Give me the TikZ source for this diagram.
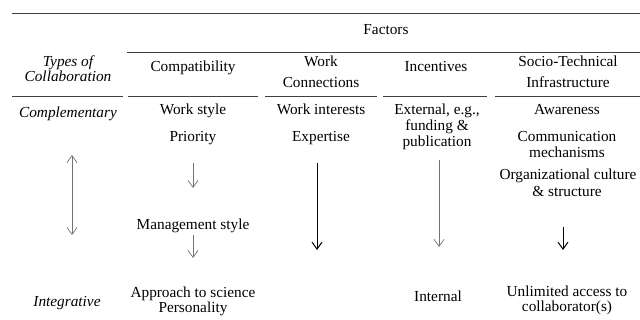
\documentclass[tikz,border=0pt]{standalone}
\usepackage{fontspec}
\setmainfont{Liberation Serif}
\usetikzlibrary{arrows.meta}
\begin{document}
\begin{tikzpicture}[x=1pt,y=-1pt,
  txt/.style={anchor=base,inner sep=0pt,font=\fontsize{15.3}{17}\selectfont},
  itxt/.style={txt,font=\fontsize{15.3}{17}\selectfont\itshape},
  rule/.style={draw=black!75,line width=0.9pt},
  garrow/.style={draw=black!55,line width=0.7pt,-{Straight Barb[length=7pt,width=10pt]}},
  barrow/.style={draw=black,line width=1pt,-{Straight Barb[length=7pt,width=10pt]}},
  gdarrow/.style={draw=black!55,line width=0.7pt,{Straight Barb[length=7pt,width=10pt]}-{Straight Barb[length=7pt,width=10pt]}}]
\useasboundingbox (0,0) rectangle (640,320);
% rules
\coordinate (t1) at (12,13); \coordinate (t2) at (640,13);
\coordinate (f1) at (127,52); \coordinate (f2) at (640,52);
\draw[rule] (t1) -- (t2);
\draw[rule] (f1) -- (f2);
\coordinate (h1a) at (12,96);  \coordinate (h1b) at (123,96);
\coordinate (h2a) at (128,96); \coordinate (h2b) at (258,96);
\coordinate (h3a) at (265,96); \coordinate (h3b) at (377,96);
\coordinate (h4a) at (383,96); \coordinate (h4b) at (487,96);
\coordinate (h5a) at (495,96); \coordinate (h5b) at (640,96);
\draw[rule] (h1a) -- (h1b);
\draw[rule] (h2a) -- (h2b);
\draw[rule] (h3a) -- (h3b);
\draw[rule] (h4a) -- (h4b);
\draw[rule] (h5a) -- (h5b);
% header
\node[txt] (factors) at (386,35) {Factors};
\node[itxt] (types1) at (68,67) {Types of};
\node[itxt] (types2) at (68,82) {Collaboration};
\node[txt] (compat) at (193,72) {Compatibility};
\node[txt] (wc1) at (321,67) {Work};
\node[txt] (wc2) at (321,88) {Connections};
\node[txt] (incent) at (436,72) {Incentives};
\node[txt] (st1) at (568,67) {Socio-Technical};
\node[txt] (st2) at (568,88) {Infrastructure};
% rows
\node[itxt] (compl) at (68,118) {Complementary};
\node[itxt] (integ) at (67,307) {Integrative};
\node[txt] (wstyle) at (193,115) {Work style};
\node[txt] (prio) at (193,142) {Priority};
\node[txt] (mgmt) at (193,230) {Management style};
\node[txt] (appr) at (193,298) {Approach to science};
\node[txt] (pers) at (193,313) {Personality};
\node[txt] (wint) at (321,115) {Work interests};
\node[txt] (expt) at (321,142) {Expertise};
\node[txt] (ext1) at (437,115) {External, e.g.,};
\node[txt] (ext2) at (437,131) {funding \&};
\node[txt] (ext3) at (437,147) {publication};
\node[txt] (intl) at (438,302) {Internal};
\node[txt] (aw) at (567,115) {Awareness};
\node[txt] (cm1) at (567,142) {Communication};
\node[txt] (cm2) at (567,158) {mechanisms};
\node[txt] (oc1) at (568,180) {Organizational culture};
\node[txt] (oc2) at (567,197) {\& structure};
\node[txt] (ul1) at (567,297) {Unlimited access to};
\node[txt] (ul2) at (567,312) {collaborator(s)};
% arrows
\coordinate (d1) at (72,155); \coordinate (d2) at (72,235);
\draw[gdarrow] (d1) -- (d2);
\coordinate (c1a) at (193,163); \coordinate (c1b) at (193,188);
\draw[garrow] (c1a) -- (c1b);
\coordinate (c2a) at (193,235); \coordinate (c2b) at (193,258);
\draw[garrow] (c2a) -- (c2b);
\coordinate (w1) at (317,163); \coordinate (w2) at (317,250);
\draw[barrow] (w1) -- (w2);
\coordinate (i1) at (439,160); \coordinate (i2) at (439,247);
\draw[garrow] (i1) -- (i2);
\coordinate (s1) at (563,227); \coordinate (s2) at (563,250);
\draw[barrow] (s1) -- (s2);
\end{tikzpicture}
\end{document}
